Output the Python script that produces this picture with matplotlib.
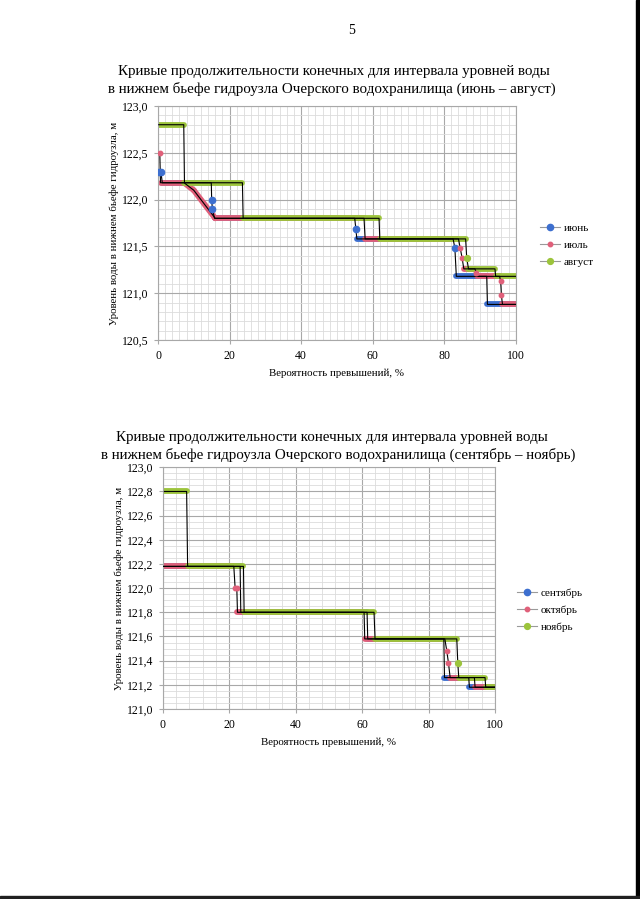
import numpy as np
import matplotlib
matplotlib.use('Agg')
import matplotlib.pyplot as plt
from matplotlib.lines import Line2D
from matplotlib.patches import Rectangle
from matplotlib.ticker import FuncFormatter, MultipleLocator

plt.rcParams['font.family'] = ['Liberation Serif', 'DejaVu Serif']

# --- chart 1: June - August (probability %, level m) ---
jun_x = [0.3, 0.8, 1.2, 14.9, 15.0, 15.2, 15.8, 55.0, 55.3, 55.6, 82.5, 83.0, 83.4, 91.9, 92.1, 100]
jun_y = [122.3, 122.3, 122.18, 122.18, 122.0, 121.9, 121.8, 121.8, 121.69, 121.58, 121.58, 121.48,
         121.18, 121.18, 120.88, 120.88]

jul_x = [0.5, 0.7, 7.3, 10.0, 16.0, 57.6, 57.9, 84.0, 84.5, 85.0, 85.5, 88.6, 89.0, 89.3, 95.5,
         95.8, 96.0, 96.3, 100]
jul_y = [122.5, 122.18, 122.18, 122.1, 121.8, 121.8, 121.58, 121.58, 121.48, 121.38, 121.26,
         121.26, 121.22, 121.18, 121.18, 121.13, 120.98, 120.88, 120.88]

aug_x = [0.2, 7.2, 7.4, 23.6, 23.8, 61.8, 62.0, 86.0, 86.3, 86.8, 94.2, 94.4, 100]
aug_y = [122.8, 122.8, 122.18, 122.18, 121.8, 121.8, 121.58, 121.58, 121.38, 121.26, 121.26,
         121.18, 121.18]

# --- chart 2: September - November ---
sep_x = [0.2, 23.3, 23.5, 61.5, 61.7, 84.6, 84.8, 92.1, 92.3, 100]
sep_y = [122.18, 122.18, 121.8, 121.8, 121.58, 121.58, 121.26, 121.26, 121.18, 121.18]

oct_x = [0.3, 21.4, 21.8, 22.3, 22.5, 60.6, 60.8, 84.9, 85.5, 86.0, 86.5, 93.8, 94.0, 100]
oct_y = [122.18, 122.18, 122.0, 122.0, 121.8, 121.8, 121.58, 121.58, 121.48, 121.38, 121.26,
         121.26, 121.18, 121.18]

nov_x = [0.5, 7.2, 7.5, 24.3, 24.5, 63.6, 63.9, 88.5, 88.8, 89.1, 97.0, 97.2, 100]
nov_y = [122.8, 122.8, 122.18, 122.18, 121.8, 121.8, 121.58, 121.58, 121.38, 121.26, 121.26,
         121.18, 121.18]

blue = '#3d6fcf'
red = '#e0607a'
green = '#9cc43c'


def draw_series(ax, xs, ys, color, ms):
    xs = np.array(xs)
    ys = np.array(ys)
    dense = np.diff(xs) > 1
    # dense runs of markers look like thick coloured lines
    for i in np.where(dense)[0]:
        ax.plot(xs[i:i + 2], ys[i:i + 2], color=color, lw=4.2,
                solid_capstyle='round', zorder=2)
    # single points between the plateaus
    for i in range(len(xs)):
        left = dense[i - 1] if i > 0 else False
        right = dense[i] if i < len(dense) else False
        if not left and not right:
            ax.plot(xs[i], ys[i], 'o', color=color, ms=ms, mec=color, zorder=4)
    ax.plot(xs, ys, color='black', lw=0.8, zorder=3)


def style_axes(ax, ymin, ymax, ymajor, yminor, xminor):
    ax.set_xlim(0, 100)
    ax.set_ylim(ymin, ymax)
    ax.xaxis.set_major_locator(MultipleLocator(20))
    ax.xaxis.set_minor_locator(MultipleLocator(xminor))
    ax.yaxis.set_major_locator(MultipleLocator(ymajor))
    ax.yaxis.set_minor_locator(MultipleLocator(yminor))
    ax.yaxis.set_major_formatter(FuncFormatter(lambda v, p: f'{v:.1f}'.replace('.', ',')))
    ax.grid(which='major', color='#a8a8a8', lw=0.8)
    ax.grid(which='minor', color='#dcdcdc', lw=0.6)
    ax.set_axisbelow(True)
    for s in ax.spines.values():
        s.set_color('#a8a8a8')
        s.set_linewidth(0.8)
    ax.tick_params(which='major', length=3, color='#a8a8a8', labelsize=8.5, pad=4)
    ax.tick_params(which='minor', length=0)
    ax.set_xlabel('Вероятность превышений, %', fontsize=7.8, labelpad=5)
    ax.set_ylabel('Уровень воды в нижнем бьефе гидроузла, м', fontsize=7.8, labelpad=2)


fig = plt.figure(figsize=(6.4, 8.99), dpi=100)

fig.text(352 / 640, 1 - 30 / 899, '5', ha='center', va='center', fontsize=10)

title_fs = 10.8

# chart 1
fig.text(334 / 640, 1 - 71 / 899, 'Кривые продолжительности конечных для интервала уровней воды',
         ha='center', va='center', fontsize=title_fs)
fig.text(332 / 640, 1 - 89 / 899, 'в нижнем бьефе гидроузла Очерского водохранилища (июнь – август)',
         ha='center', va='center', fontsize=title_fs)

ax1 = fig.add_axes([158 / 640, 1 - 340 / 899, 357.7 / 640, 234 / 899])
draw_series(ax1, jun_x, jun_y, blue, 4.5)
draw_series(ax1, jul_x, jul_y, red, 3.2)
draw_series(ax1, aug_x, aug_y, green, 4.2)
style_axes(ax1, 120.5, 123.0, 0.5, 0.1, 2)

h1 = [Line2D([], [], color='#9a9a9a', lw=0.8, marker='o', ms=4.5, mfc=blue, mec=blue),
      Line2D([], [], color='#9a9a9a', lw=0.8, marker='o', ms=3.2, mfc=red, mec=red),
      Line2D([], [], color='#9a9a9a', lw=0.8, marker='o', ms=4.2, mfc=green, mec=green)]
ax1.legend(h1, ['июнь', 'июль', 'август'], loc='center left',
           bbox_to_anchor=(530 / 640, 1 - 245 / 899), bbox_transform=fig.transFigure,
           frameon=False, fontsize=8, handlelength=1.8, handletextpad=0.3, labelspacing=0.65)

# chart 2
fig.text(332 / 640, 1 - 437 / 899, 'Кривые продолжительности конечных для интервала уровней воды',
         ha='center', va='center', fontsize=title_fs)
fig.text(338 / 640, 1 - 455 / 899, 'в нижнем бьефе гидроузла Очерского водохранилища (сентябрь – ноябрь)',
         ha='center', va='center', fontsize=title_fs)

ax2 = fig.add_axes([162.7 / 640, 1 - 709 / 899, 332.3 / 640, 241.7 / 899])
draw_series(ax2, sep_x, sep_y, blue, 4.5)
draw_series(ax2, oct_x, oct_y, red, 3.2)
draw_series(ax2, nov_x, nov_y, green, 4.2)
style_axes(ax2, 121.0, 123.0, 0.2, 0.05, 4)

ax2.legend(h1, ['сентябрь', 'октябрь', 'ноябрь'], loc='center left',
           bbox_to_anchor=(507 / 640, 1 - 610 / 899), bbox_transform=fig.transFigure,
           frameon=False, fontsize=8, handlelength=1.8, handletextpad=0.3, labelspacing=0.65)

# dark scan edges
fig.patches.append(Rectangle((636 / 640, 0), 4 / 640, 1, transform=fig.transFigure,
                             color='black', zorder=10))
fig.patches.append(Rectangle((0, 0), 1, 3 / 899, transform=fig.transFigure,
                             color='#202020', zorder=10))

fig.savefig('out.png', dpi=100)
